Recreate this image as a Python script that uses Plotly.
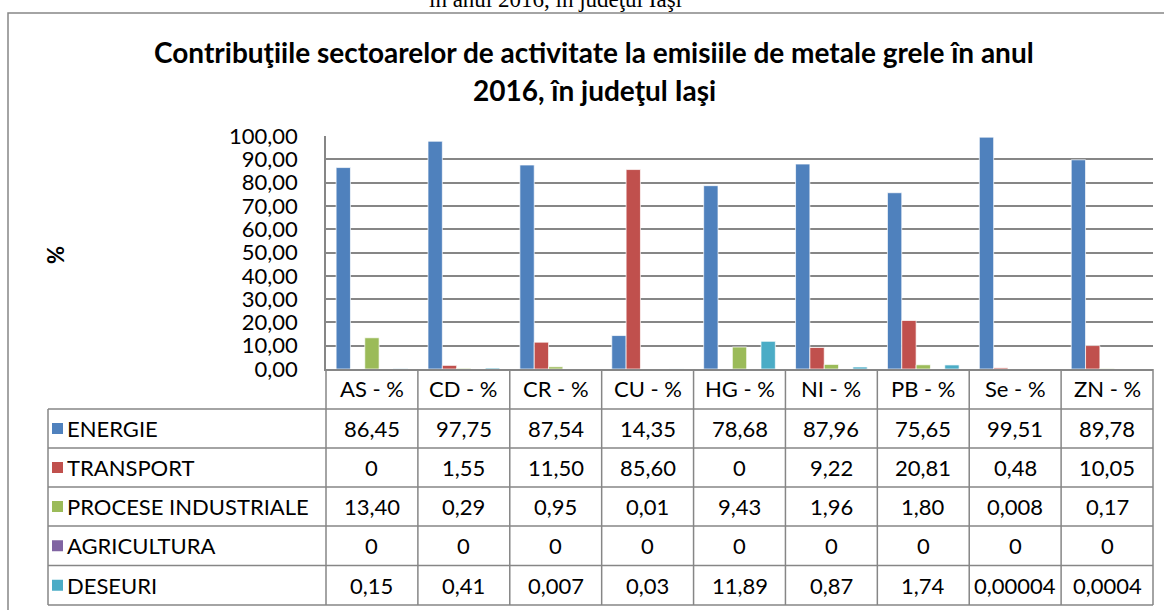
import plotly.graph_objects as go

W, H = 1164, 610

categories = ["AS - %", "CD - %", "CR - %", "CU - %", "HG - %", "NI - %", "PB - %", "Se - %", "ZN - %"]
series_names = ["ENERGIE", "TRANSPORT", "PROCESE INDUSTRIALE", "AGRICULTURA", "DESEURI"]
energie = [86.45, 97.75, 87.54, 14.35, 78.68, 87.96, 75.65, 99.51, 89.78]
transport = [0, 1.55, 11.50, 85.60, 0, 9.22, 20.81, 0.48, 10.05]
procese = [13.40, 0.29, 0.95, 0.01, 9.43, 1.96, 1.80, 0.008, 0.17]
agricultura = [0, 0, 0, 0, 0, 0, 0, 0, 0]
deseuri = [0.15, 0.41, 0.007, 0.03, 11.89, 0.87, 1.74, 0.00004, 0.0004]
y_ticks = [0, 10, 20, 30, 40, 50, 60, 70, 80, 90, 100]

colors = ["#4F81BD", "#C0504D", "#9BBB59", "#8064A2", "#4BACC6"]
all_series = [energie, transport, procese, agricultura, deseuri]

FONT = "Lato"
GRID = "#868686"
FS = 22

def X(px):
    return px / W

def Y(py):
    return 1 - py / H

def fmt(v):
    if v == 0:
        return "0"
    if v >= 0.01:
        s = f"{v:.2f}"
    else:
        s = format(v, "f").rstrip("0")
    return s.replace(".", ",")

PL, PR, PT, PB = 326, 1153, 136, 369

fig = go.Figure()
for name, vals, col in zip(series_names, all_series, colors):
    fig.add_trace(go.Bar(x=categories, y=vals, name=name,
                         marker=dict(color=col, line=dict(color="rgba(255,255,255,0.7)", width=1))))

fig.update_layout(
    width=W, height=H,
    margin=dict(l=0, r=0, t=0, b=0, autoexpand=False),
    paper_bgcolor="white", plot_bgcolor="white",
    showlegend=False,
    barmode="group", bargap=0.22, bargroupgap=0,
    separators=",.",
    font=dict(family=FONT, color="black"),
    xaxis=dict(domain=[X(PL), X(PR)], showticklabels=False, showgrid=False, automargin=False,
               showline=True, linecolor=GRID, linewidth=1.5, ticks="", zeroline=False),
    yaxis=dict(domain=[Y(PB), Y(PT)], range=[0, 100], tickvals=y_ticks, tickformat=".2f",
               automargin=False,
               showgrid=True, gridcolor=GRID, gridwidth=1.5, zeroline=False,
               showline=True, linecolor=GRID, linewidth=1.5,
               tickfont=dict(size=FS, family=FONT, color="black"), ticklabelstandoff=22),
)

shapes = []
ann = []
# chart border (right and bottom edges lie beyond the picture)
shapes.append(dict(type="rect", xref="paper", yref="paper", x0=X(8), x1=X(1175), y0=-0.1, y1=Y(13),
                   line=dict(color=GRID, width=1.5), fillcolor="rgba(0,0,0,0)", layer="below"))

# cut-off text at top
ann.append(dict(text="în anul 2016, în judeţul Iaşi", x=X(555), y=Y(-1), xref="paper", yref="paper",
                showarrow=False, font=dict(family="Liberation Serif", size=23, color="black"),
                xanchor="center", yanchor="middle"))

# title
ann.append(dict(text="<b>Contribuţiile sectoarelor de activitate la emisiile de metale grele în anul</b>",
                x=X(594), y=Y(52), xref="paper", yref="paper", showarrow=False,
                font=dict(family=FONT, size=28, color="black"), xanchor="center", yanchor="middle"))
ann.append(dict(text="<b>2016, în judeţul Iaşi</b>",
                x=X(594), y=Y(90), xref="paper", yref="paper", showarrow=False,
                font=dict(family=FONT, size=28, color="black"), xanchor="center", yanchor="middle"))

# y axis title
ann.append(dict(text="<b>%</b>", x=X(55), y=Y(255), xref="paper", yref="paper", showarrow=False,
                textangle=-90, font=dict(family=FONT, size=FS, color="black"),
                xanchor="center", yanchor="middle"))

# table
TL = 48
row_edges = [369, 409, 448, 487, 526, 565.5, 605]
ncat = len(categories)
colw = (PR - PL) / ncat
col_edges = [PL + colw * k for k in range(ncat + 1)]

def hline(y, x0, x1):
    shapes.append(dict(type="line", xref="paper", yref="paper", x0=X(x0), x1=X(x1), y0=Y(y), y1=Y(y),
                       line=dict(color=GRID, width=1.5)))

def vline(x, y0, y1):
    shapes.append(dict(type="line", xref="paper", yref="paper", x0=X(x), x1=X(x), y0=Y(y0), y1=Y(y1),
                       line=dict(color=GRID, width=1.5)))

for y in row_edges[1:]:
    hline(y, TL, PR)
vline(TL, row_edges[1], row_edges[-1])
for x in col_edges:
    vline(x, row_edges[0], row_edges[-1])

# header
for i, c in enumerate(categories):
    cx = (col_edges[i] + col_edges[i + 1]) / 2
    cy = (row_edges[0] + row_edges[1]) / 2
    ann.append(dict(text=c, x=X(cx), y=Y(cy), xref="paper", yref="paper", showarrow=False,
                    font=dict(family=FONT, size=FS, color="black"), xanchor="center", yanchor="middle"))

for r, (name, vals, col) in enumerate(zip(series_names, all_series, colors)):
    cy = (row_edges[r + 1] + row_edges[r + 2]) / 2
    shapes.append(dict(type="rect", xref="paper", yref="paper", x0=X(52), x1=X(63), y0=Y(cy + 5.5), y1=Y(cy - 5.5),
                       fillcolor=col, line=dict(width=0)))
    ann.append(dict(text=name, x=X(65), y=Y(cy), xref="paper", yref="paper", showarrow=False,
                    font=dict(family=FONT, size=FS, color="black"), xanchor="left", yanchor="middle"))
    for i, v in enumerate(vals):
        cx = (col_edges[i] + col_edges[i + 1]) / 2
        ann.append(dict(text=fmt(v), x=X(cx), y=Y(cy), xref="paper", yref="paper", showarrow=False,
                        font=dict(family=FONT, size=FS, color="black"), xanchor="center", yanchor="middle"))

fig.update_layout(shapes=shapes, annotations=ann)
fig.write_html("out.html", config={"displayModeBar": False},
               post_script="document.body.style.margin='0';document.body.style.overflow='hidden';")
